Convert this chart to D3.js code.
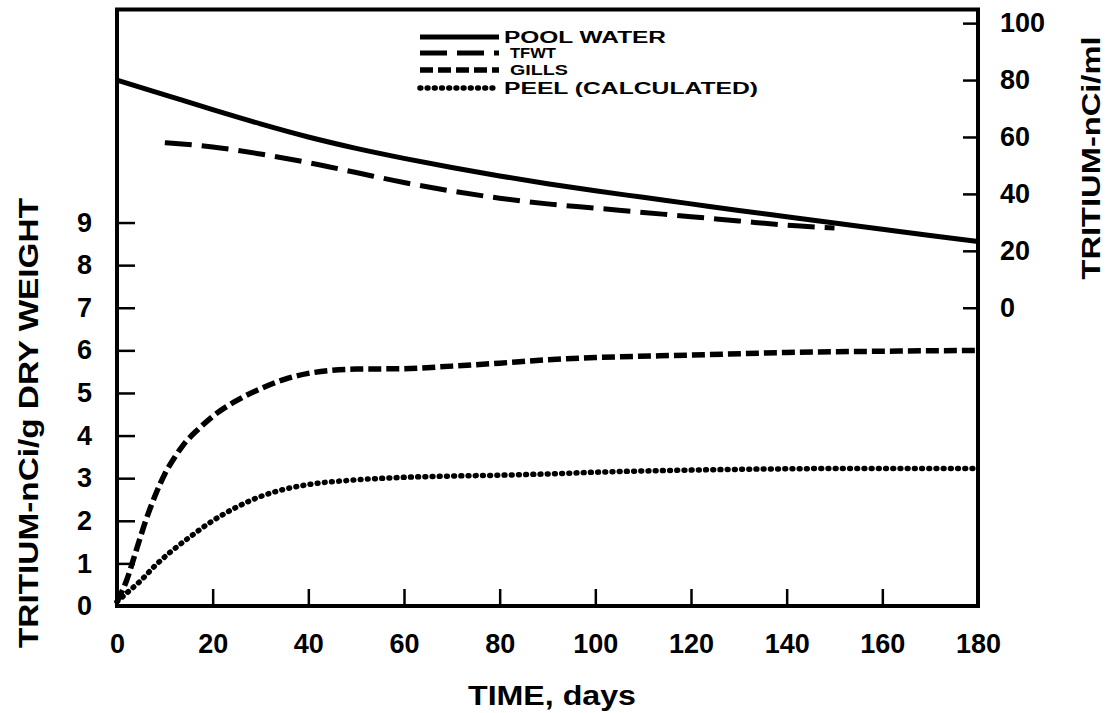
<!DOCTYPE html>
<html>
<head>
<meta charset="utf-8">
<script src="https://cdn.jsdelivr.net/npm/d3@7"></script>
<style>
    body { margin: 0; background: #fff; }
    svg text { font-family: "Liberation Sans", Arial, Helvetica, sans-serif; font-weight: bold; fill: #000; }
</style>
</head>
<body>
<div class="data_figure"></div>
<script>
// ---- data ----
// pool water + TFWT are on the right axis (nCi/ml)
const poolDays = [0, 10, 20, 30, 40, 50, 60, 70, 80, 90, 100, 110, 120, 130, 140, 150, 160, 170, 180];
const poolVals = [80, 74.8, 69.6, 64.6, 60, 56, 52.5, 49.3, 46.3, 43.6, 41.1, 38.8, 36.5, 34.2, 32, 29.8, 27.6, 25.4, 23.3];

const tfwtDays = [10, 20, 30, 40, 50, 60, 70, 80, 90, 100, 110, 120, 130, 140, 150];
const tfwtVals = [58, 56.5, 54, 51, 47.5, 44, 41, 38.5, 36.5, 35, 33.5, 32, 30.5, 29, 28];

// gills + peel are on the left axis (nCi/g dry weight)
const gillDays = [0, 2, 4, 6, 8, 10, 12, 14, 17, 20, 25, 30, 35, 40, 50, 60, 70, 80, 90, 100, 120, 140, 160, 180];
const gillVals = [0.1, 0.6, 1.3, 2.0, 2.6, 3.1, 3.48, 3.8, 4.15, 4.45, 4.82, 5.1, 5.32, 5.46, 5.56, 5.57, 5.63, 5.7, 5.78, 5.83, 5.89, 5.95, 5.98, 6.0];

const peelDays = [0, 2, 5, 8, 11, 15, 20, 25, 30, 35, 40, 50, 60, 70, 80, 90, 100, 120, 140, 160, 180];
const peelVals = [0.1, 0.3, 0.6, 0.95, 1.25, 1.6, 2.0, 2.32, 2.57, 2.74, 2.85, 2.96, 3.02, 3.05, 3.07, 3.1, 3.14, 3.19, 3.22, 3.23, 3.23];

const xTicks = [0, 20, 40, 60, 80, 100, 120, 140, 160, 180];
const leftTicks = [0, 1, 2, 3, 4, 5, 6, 7, 8, 9];
const rightTicks = [0, 20, 40, 60, 80, 100];

const legendNames = ["POOL WATER", "TFWT", "GILLS", "PEEL (CALCULATED)"];
const legendWidths = [162, 46, 58, 254];   // the original type is very wide
const legendSizes = [16, 14, 14.5, 16];

const widthMax = 1106;
const heightMax = 713;
const plot = { left: 117, right: 978, top: 9.5, bottom: 606 };

const styles = {
    pool: { width: 5, dash: null },
    tfwt: { width: 5, dash: "27,10" },
    gill: { width: 5.5, dash: "13,5" },
    peel: { width: 5.5, dash: "0.8,6.4", cap: "round" },
};

const xScale = d3.scaleLinear().domain([0, 180]).range([plot.left, plot.right]);
const yLeft = d3.scaleLinear().domain([0, 14]).range([plot.bottom, plot.top]);
// right axis: 0 sits level with 7 on the left axis, 100 with ~13.68
const yRight = d3.scaleLinear().domain([0, 100]).range([yLeft(7), yLeft(13.68)]);

let svg = d3.select(".data_figure")
    .append("svg")
    .attr("width", widthMax)
    .attr("height", heightMax);

// axes (domain paths removed, frame drawn below)
function styleAxis(g) {
    g.select(".domain").remove();
    g.selectAll(".tick line").attr("stroke", "#000").attr("stroke-width", 2.5);
    g.selectAll(".tick text")
        .style("font-size", "27px")
        .style("font-family", "'Liberation Sans', Arial, sans-serif")
        .style("font-weight", "bold")
        .attr("fill", "#000");
}

svg.append("g")
    .attr("transform", "translate(0," + plot.bottom + ")")
    .call(d3.axisBottom(xScale).tickValues(xTicks).tickSize(-17).tickPadding(28).tickFormat(d3.format("d")))
    .call(styleAxis);

svg.append("g")
    .attr("transform", "translate(" + plot.left + ",0)")
    .call(d3.axisLeft(yLeft).tickValues(leftTicks).tickSize(-18).tickPadding(25).tickFormat(d3.format("d")))
    .call(styleAxis);

svg.append("g")
    .attr("transform", "translate(" + plot.right + ",0)")
    .call(d3.axisRight(yRight).tickValues(rightTicks).tickSize(-15).tickPadding(22).tickFormat(d3.format("d")))
    .call(styleAxis);

// frame
svg.append("rect")
    .attr("x", plot.left)
    .attr("y", plot.top)
    .attr("width", plot.right - plot.left)
    .attr("height", plot.bottom - plot.top)
    .attr("fill", "none")
    .attr("stroke", "#000")
    .attr("stroke-width", 4);

// axis titles
svg.append("text")
    .text("TIME, days")
    .attr("x", 552)
    .attr("y", 705)
    .attr("text-anchor", "middle")
    .attr("textLength", 168)
    .attr("lengthAdjust", "spacingAndGlyphs")
    .style("font-size", "27px");

svg.append("text")
    .text("TRITIUM-nCi/g DRY WEIGHT")
    .attr("transform", "translate(38,423) rotate(-90)")
    .attr("text-anchor", "middle")
    .attr("textLength", 450)
    .attr("lengthAdjust", "spacingAndGlyphs")
    .style("font-size", "28px");

svg.append("text")
    .text("TRITIUM-nCi/ml")
    .attr("transform", "translate(1100,158) rotate(-90)")
    .attr("text-anchor", "middle")
    .attr("textLength", 243)
    .attr("lengthAdjust", "spacingAndGlyphs")
    .style("font-size", "25px");

// curves
const lineRight = d3.line()
    .x((d) => xScale(d[0]))
    .y((d) => yRight(d[1]))
    .curve(d3.curveMonotoneX);
const lineLeft = d3.line()
    .x((d) => xScale(d[0]))
    .y((d) => yLeft(d[1]))
    .curve(d3.curveMonotoneX);

const series = [
    { key: "pool", pts: d3.zip(poolDays, poolVals), line: lineRight },
    { key: "tfwt", pts: d3.zip(tfwtDays, tfwtVals), line: lineRight },
    { key: "gill", pts: d3.zip(gillDays, gillVals), line: lineLeft },
    { key: "peel", pts: d3.zip(peelDays, peelVals), line: lineLeft },
];

svg.selectAll(".curve")
    .data(series)
    .enter()
    .append("path")
    .attr("class", "curve")
    .attr("d", (d) => d.line(d.pts))
    .attr("fill", "none")
    .attr("stroke", "#000")
    .attr("stroke-width", (d) => styles[d.key].width)
    .attr("stroke-dasharray", (d) => styles[d.key].dash)
    .attr("stroke-linecap", (d) => styles[d.key].cap || "butt");

// legend
const legendRows = [37, 53, 70, 88];
let legend = svg.append("g").attr("id", "legend");
series.forEach((s, i) => {
    const st = styles[s.key];
    legend.append("line")
        .attr("x1", 420).attr("x2", 499)
        .attr("y1", legendRows[i]).attr("y2", legendRows[i])
        .attr("stroke", "#000")
        .attr("stroke-width", st.width)
        .attr("stroke-dasharray", st.dash)
        .attr("stroke-linecap", st.cap || "butt");
    legend.append("text")
        .text(legendNames[i])
        .attr("x", i == 1 || i == 2 ? 510 : 504)
        .attr("y", legendRows[i])
        .attr("dy", "0.36em")
        .attr("textLength", legendWidths[i])
        .attr("lengthAdjust", "spacingAndGlyphs")
        .style("font-size", legendSizes[i] + "px");
});
</script>
</body>
</html>
